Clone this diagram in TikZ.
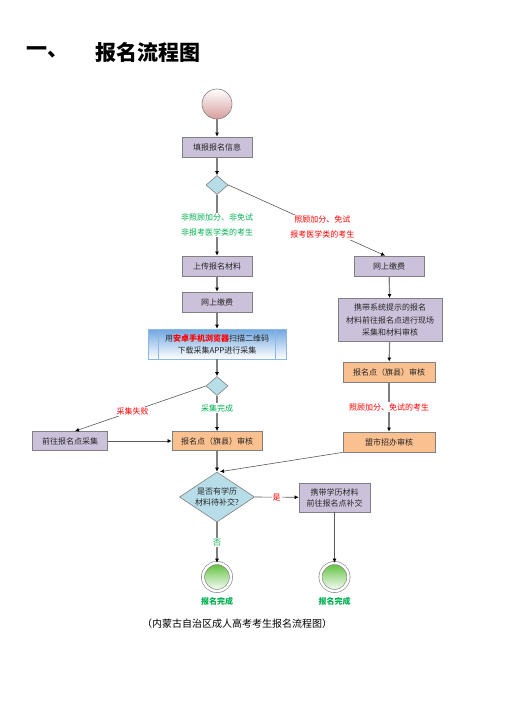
\documentclass[tikz,border=0pt]{standalone}
\usepackage{fontspec}
\setmainfont{Noto Sans CJK SC}
\usetikzlibrary{arrows.meta, shapes.geometric}
\definecolor{lavender}{HTML}{CCC1DA}
\definecolor{apricot}{HTML}{FAC08F}
\definecolor{paleblue}{HTML}{B7DDE8}
\definecolor{appblue}{HTML}{6FA6E0}
\definecolor{rosy}{HTML}{D69C9C}
\definecolor{leaf}{HTML}{5CBF3A}
\definecolor{okgreen}{HTML}{00B050}
\definecolor{linegray}{HTML}{808080}
\tikzset{task/.style={draw=linegray, fill=lavender, line width=0.8pt, minimum width=70pt, minimum height=20pt, inner sep=1pt, align=center, text=black!85, font=\fontsize{8}{12.5}\selectfont}}
\tikzset{review/.style={task, fill=apricot, minimum width=90pt}}
\tikzset{choice/.style={diamond, draw=linegray, fill=paleblue, line width=0.6pt, inner sep=0pt, aspect=1.5, minimum width=22pt, minimum height=19pt, align=center, text=black!85, font=\fontsize{8}{11}\selectfont}}
\tikzset{goal/.style={circle, draw=linegray, line width=0.6pt, double=white, double distance=2.5pt, minimum size=28pt, top color=leaf, bottom color=white}}
\tikzset{flow/.style={draw=linegray, line width=1.2pt, -{Latex[length=4pt, width=4pt, color=black]}}}
\tikzset{slim/.style={draw=black!65, line width=0.6pt, -{Latex[length=4pt, width=4pt, color=black]}}}
\tikzset{cond/.style={fill=white, inner sep=1pt, align=center, font=\fontsize{8}{15}\selectfont}}
\tikzset{donetext/.style={text=okgreen, font=\fontsize{8}{10}\selectfont\bfseries}}
\begin{document}
\begin{tikzpicture}[x=1pt, y=-1pt]
  \useasboundingbox[fill=white] (0,0) rectangle (505,701);
  \node[font=\fontsize{21}{24}\selectfont\bfseries] (num) at (47,52) {一、};
  \node[font=\fontsize{21}{24}\selectfont\bfseries] (head) at (148,52) {报名流程图};
  \node[circle, draw=linegray, line width=0.6pt, minimum size=30pt, top color=white, bottom color=rosy] (start) at (217,104) {};
  \node[task] (fill) at (217,147) {填报报名信息};
  \node[choice] (d1) at (217,185) {};
  \node[task] (upload) at (217,266) {上传报名材料};
  \node[task] (payL) at (217,302) {网上缴费};
  \node[draw=appblue!80, line width=0.6pt, top color=appblue, bottom color=white, minimum width=138pt, minimum height=30pt, inner sep=1pt, align=center, text=black!85, font=\fontsize{8}{12}\selectfont] (app) at (217,344) {用\textcolor{red}{\bfseries 安卓手机浏览器}扫描二维码\\下载采集APP进行采集};
  \draw[draw=appblue!80, line width=0.6pt] ([xshift=11pt]app.north west) -- ([xshift=11pt]app.south west);
  \draw[draw=appblue!80, line width=0.6pt] ([xshift=-11pt]app.north east) -- ([xshift=-11pt]app.south east);
  \node[choice] (d2) at (217,386) {};
  \node[task, minimum width=75pt, minimum height=19pt] (goL) at (70,441) {前往报名点采集};
  \node[review, minimum height=19pt] (reviewL) at (217,441) {报名点（旗县）审核};
  \node[task] (payR) at (389,266) {网上缴费};
  \node[task, minimum width=104pt, minimum height=43pt] (carry) at (390,320) {携带系统提示的报名\\材料前往报名点进行现场\\采集和材料审核};
  \node[review, minimum width=92pt] (reviewR) at (389,372) {报名点（旗县）审核};
  \node[review, minimum width=92pt] (city) at (389,442) {盟市招办审核};
  \node[choice, minimum width=75pt, minimum height=50pt] (d3) at (217,497) {是否有学历\\材料待补交?};
  \node[task, minimum width=71pt, minimum height=29pt, font=\fontsize{8}{11}\selectfont] (supp) at (334.5,497.5) {携带学历材料\\前往报名点补交};
  \node[goal] (done1) at (217,577) {};
  \node[goal] (done2) at (334.5,577) {};
  \node[donetext] (done1t) at (217,601) {报名完成};
  \node[donetext] (done2t) at (334.5,601) {报名完成};
  \node[font=\fontsize{10}{12}\selectfont] (caption) at (237,624) {（内蒙古自治区成人高考考生报名流程图）};
  \draw[flow] (start) -- (fill);
  \draw[flow] (fill) -- (d1);
  \draw[flow] (d1) -- node[cond, text=okgreen] {非照顾加分、非免试\\非报考医学类的考生} (upload);
  \draw[slim] (d1.east) -- node[cond, text=red, pos=0.6] {照顾加分、免试\\报考医学类的考生} ([xshift=-4pt]payR.north);
  \draw[flow] (upload) -- (payL);
  \draw[flow] (payL) -- (app);
  \draw[flow] (app) -- (d2);
  \draw[slim] (d2.west) -- node[cond, text=red, pos=0.56] {采集失败} ([xshift=5pt]goL.north);
  \draw[flow] (d2) -- node[cond, text=okgreen, pos=0.35] {采集完成} (reviewL);
  \draw[slim] (goL) -- (reviewL);
  \draw[flow] (reviewL) -- (d3);
  \draw[flow] (payR) -- (carry);
  \draw[flow] (carry) -- (reviewR);
  \draw[flow] (reviewR) -- node[cond, text=red] {照顾加分、免试的考生} (city);
  \draw[slim] (city.south west) -- ([xshift=3pt]d3.north);
  \draw[slim] (d3.east) -- node[cond, text=red] {是} (supp);
  \draw[flow] (d3.south) -- node[cond, text=okgreen] {否} (done1);
  \draw[slim] (supp) -- (done2);
\end{tikzpicture}
\end{document}
